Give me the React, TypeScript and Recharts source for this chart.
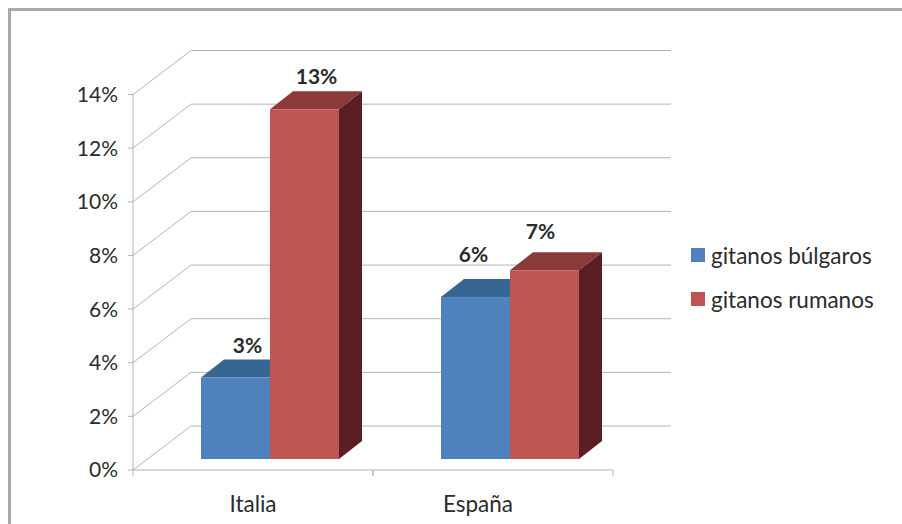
import { BarChart, Bar, XAxis, YAxis, CartesianGrid, Legend } from "recharts"

const categories = ["Italia", "España"]
const bulgaros = [3, 6]
const rumanos = [13, 7]
const yTicks = [0, 2, 4, 6, 8, 10, 12, 14]

const data = categories.map((name, i) => ({ name, bulgaros: bulgaros[i], rumanos: rumanos[i] }))

const FONT = "Lato, Carlito, sans-serif"
const TEXT = "#2b2b2b"
const GRID = "#b4b4b4"

// back wall offset of the fake 3D box
const WALL_X = 58
const WALL_Y = -44
// bars stand a little way into the floor
const BAR_X = 17
const BAR_Y = -12
const DEPTH_X = 23
const DEPTH_Y = -18

const blue = { front: "#4f81bd", top: "#376591", side: "#2c4d75" }
const red = { front: "#bf5553", top: "#8b3a3a", side: "#5a1f24" }

function bar3d(colors: { front: string; top: string; side: string }) {
  return (props: any) => {
    const x = props.x + BAR_X
    const y = props.y + BAR_Y
    const w = props.width
    const h = props.height + 1
    return (
      <g>
        <polygon
          points={`${x},${y} ${x + DEPTH_X},${y + DEPTH_Y} ${x + w + DEPTH_X},${y + DEPTH_Y} ${x + w},${y}`}
          fill={colors.top}
        />
        <polygon
          points={`${x + w},${y} ${x + w + DEPTH_X},${y + DEPTH_Y} ${x + w + DEPTH_X},${y + h + DEPTH_Y} ${x + w},${y + h}`}
          fill={colors.side}
        />
        <rect x={x} y={y} width={w} height={h} fill={colors.front} />
      </g>
    )
  }
}

// labels on the España bars sit off-centre in the original
function barLabel(nudge: number[][]) {
  return (props: any) => {
    const [dx, dy] = nudge[props.index]
    return (
      <text
        x={props.x + props.width / 2 + BAR_X + 12 + dx}
        y={props.y + BAR_Y - 25 + dy}
        textAnchor="middle"
        fontFamily={FONT}
        fontSize={21}
        fontWeight={700}
        fill={TEXT}
      >
        {props.value}%
      </text>
    )
  }
}

function gridLine(props: any) {
  const { x1, x2, y1 } = props
  return (
    <polyline
      points={`${x1},${y1} ${x1 + WALL_X},${y1 + WALL_Y} ${x2 + WALL_X},${y1 + WALL_Y}`}
      fill="none"
      stroke={GRID}
      strokeWidth={1}
    />
  )
}

function CategoryTick(props: any) {
  const half = 120
  const dx = props.index === 1 ? -15 : 0
  return (
    <g>
      <line x1={props.x - half} x2={props.x - half} y1={470} y2={476} stroke={GRID} />
      <line x1={props.x + half} x2={props.x + half} y1={470} y2={476} stroke={GRID} />
      <text x={props.x + dx} y={512} textAnchor="middle" fontFamily={FONT} fontSize={22.5} fill={TEXT}>
        {props.payload.value}
      </text>
    </g>
  )
}

function legendContent(props: any) {
  return (
    <div>
      {props.payload.map((entry: any) => (
        <div key={entry.value} style={{ display: "flex", alignItems: "center", height: 44 }}>
          <span style={{ width: 14, height: 14, background: entry.color, marginRight: 6 }} />
          <span style={{ color: TEXT }}>{entry.value}</span>
        </div>
      ))}
    </div>
  )
}

export default function App() {
  return (
    <div style={{ position: "absolute", left: 0, top: 0, width: 902, height: 524, background: "#fff" }}>
      <div
        style={{
          position: "absolute",
          left: 8,
          top: 8,
          width: 894,
          height: 516,
          boxSizing: "border-box",
          borderTop: "3px solid #a9a9ae",
          borderLeft: "3px solid #a9a9ae",
        }}
      />
      <BarChart
        width={902}
        height={524}
        data={data}
        margin={{ top: 94.5, right: 84, bottom: 0, left: 0 }}
        barCategoryGap={51}
        barGap={0}
        style={{ position: "absolute", left: 0, top: 0 }}
      >
        <CartesianGrid vertical={false} horizontal={gridLine} />
        <XAxis
          dataKey="name"
          stroke={GRID}
          tickLine={false}
          tick={<CategoryTick />}
          height={54}
        />
        <YAxis
          width={133}
          domain={[0, 14]}
          ticks={yTicks}
          tickFormatter={(v) => `${v}%`}
          stroke={GRID}
          tickSize={5}
          tickMargin={10}
          tick={{ fontFamily: FONT, fontSize: 21, fill: TEXT }}
        />
        <Legend
          layout="vertical"
          align="right"
          verticalAlign="top"
          content={legendContent}
          wrapperStyle={{ left: 691, top: 233, width: 205, fontFamily: FONT, fontSize: 22.5 }}
        />
        <Bar
          name="gitanos búlgaros"
          dataKey="bulgaros"
          fill={blue.front}
          shape={bar3d(blue)}
          label={barLabel([[0, 0], [-14, -10]])}
          isAnimationActive={false}
        />
        <Bar
          name="gitanos rumanos"
          dataKey="rumanos"
          fill={red.front}
          shape={bar3d(red)}
          label={barLabel([[0, 0], [-16, -6]])}
          isAnimationActive={false}
        />
      </BarChart>
    </div>
  )
}
